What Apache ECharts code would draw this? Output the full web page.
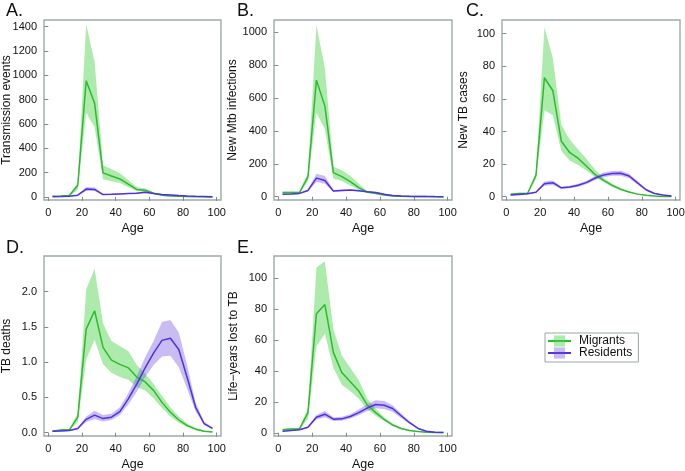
<!DOCTYPE html>
<html><head><meta charset="utf-8">
<script src="https://cdn.jsdelivr.net/npm/echarts@6/dist/echarts.min.js"></script>
<style>html,body{margin:0;padding:0;background:#fff}#c{width:685px;height:471px}</style>
</head><body><div id="c"></div>
<script>
// ---------- data ----------
const ages = [2.5,7.5,12.5,17.5,22.5,27.5,32.5,37.5,42.5,47.5,52.5,57.5,62.5,67.5,72.5,77.5,82.5,87.5,92.5,97.5];
const xTicks = [0,20,40,60,80,100];
const seriesNames = ['Migrants','Residents'];
const panelLetters = ['A.','B.','C.','D.','E.'];
const yTitles = ['Transmission events','New Mtb infections','New TB cases','TB deaths','Life\u2212years lost to TB'];
const yTicksA = [0,200,400,600,800,1000,1200,1400];
const yTicksB = [0,200,400,600,800,1000];
const yTicksC = [0,20,40,60,80,100];
const yTicksD = [0,0.5,1,1.5,2];
const yTicksE = [0,20,40,60,80,100];

// A: Transmission events
const A_mig   = [5,8,12,96,955,770,198,172,148,105,62,55,30,14,8,5,3,2,1,0.5];
const A_migLo = [2,4,6,60,690,575,145,130,115,80,48,42,24,11,6,4,2,1.5,0.7,0.3];
const A_migHi = [9,12,18,115,1420,1110,260,230,195,140,80,70,38,18,10,6,4,2.5,1.3,0.7];
const A_res   = [2,3,5,15,65,62,20,22,25,28,31,38,28,20,17,12,8,5,3,1];
const A_resLo = [1,2,4,12,50,48,16,18,21,24,27,33,24,17,14,10,6,4,2,0.7];
const A_resHi = [3,4,6,18,82,78,25,27,30,33,36,44,33,24,20,15,10,7,4,1.5];
// B: New Mtb infections
const B_mig   = [26,25,25,121,708,550,146,122,92,55,28,20,10,5,3,2,1,0.5,0.3,0.2];
const B_migLo = [20,20,20,95,510,410,110,95,68,40,22,16,8,4,2,1.5,0.7,0.3,0.2,0.1];
const B_migHi = [32,31,30,145,1042,780,182,160,128,78,35,25,13,6.5,4,2.5,1.3,0.7,0.4,0.3];
const B_res   = [15,17,20,38,113,98,35,38,40,36,30,25,15,8,5,3,2,1,0.5,0.2];
const B_resLo = [12,14,17,32,90,78,30,33,35,31,26,21,12,6.5,4,2.4,1.5,0.8,0.4,0.15];
const B_resHi = [18,20,23,44,140,125,40,43,45,41,35,29,18,10,6,3.6,2.5,1.3,0.7,0.3];
// C: New TB cases
const C_mig   = [1.5,2,2,13,73,65,34,27,23.5,18.5,13.5,10,7,4.6,2.9,1.6,0.9,0.5,0.2,0.1];
const C_migLo = [1.2,1.6,1.7,11,53,50,28,22,19.5,16,12,9,6,4,2.5,1.4,0.8,0.4,0.15,0.08];
const C_migHi = [1.8,2.4,2.5,15,104,85,44,35,29,23,16.5,11.5,8,5.2,3.2,1.9,1.1,0.6,0.3,0.15];
const C_res   = [1,1.4,1.8,2.8,8,8.6,5.5,6,7,8.8,11.5,13.4,14.3,14.4,12.7,8.5,4.3,2,1,0.5];
const C_resLo = [0.8,1.2,1.5,2.4,6.8,7.2,4.8,5.2,6.1,7.8,10.3,12,12.8,12.9,11.3,7.5,3.7,1.7,0.8,0.4];
const C_resHi = [1.2,1.6,2.1,3.2,9.4,10,6.2,6.8,7.9,9.8,12.7,14.8,15.8,16,14.1,9.5,4.9,2.3,1.2,0.6];
// D: TB deaths
const D_mig   = [0.02,0.04,0.04,0.22,1.47,1.73,1.21,1.03,0.97,0.92,0.79,0.72,0.60,0.43,0.29,0.18,0.10,0.05,0.02,0.01];
const D_migLo = [0.01,0.03,0.03,0.15,1.04,1.32,0.97,0.85,0.79,0.75,0.65,0.60,0.49,0.35,0.23,0.14,0.08,0.04,0.015,0.005];
const D_migHi = [0.03,0.05,0.05,0.28,2.03,2.33,1.55,1.30,1.23,1.16,0.96,0.84,0.69,0.52,0.36,0.23,0.13,0.07,0.03,0.015];
const D_res   = [0.02,0.025,0.03,0.06,0.19,0.25,0.20,0.22,0.30,0.48,0.69,0.92,1.13,1.31,1.34,1.18,0.78,0.36,0.13,0.06];
const D_resLo = [0.015,0.02,0.025,0.05,0.15,0.19,0.16,0.18,0.25,0.40,0.58,0.79,0.96,1.08,1.09,0.93,0.62,0.30,0.11,0.05];
const D_resHi = [0.025,0.03,0.035,0.07,0.23,0.31,0.25,0.27,0.36,0.56,0.80,1.07,1.30,1.57,1.60,1.42,0.95,0.42,0.16,0.07];
// E: Life-years lost to TB
const E_mig   = [2,2.5,2.5,13,77,83,52,39,33,27,18,13,8.6,5,2.8,1.4,0.8,0.4,0.2,0.1];
const E_migLo = [1.6,2,2,9,56,64,42,31,27,22,15,11,7.6,4.5,2.5,1.2,0.7,0.3,0.15,0.08];
const E_migHi = [2.4,3,3,16,107,111,67,50,42,34,22,15.5,10,6,3.3,1.7,1,0.5,0.25,0.12];
const E_res   = [1,1.5,2,3.5,10,12,8.8,9,10.5,13,16,18.3,17.8,15.7,11,6.5,2.8,1,0.4,0.2];
const E_resLo = [0.8,1.2,1.7,3,8.5,10,7.6,7.8,9.2,11.3,14,15.8,15.4,13.6,9.6,5.6,2.4,0.8,0.3,0.15];
const E_resHi = [1.2,1.8,2.3,4,11.5,14,10,10.3,12,15,18.5,21,20.5,17.8,12.5,7.4,3.3,1.2,0.5,0.25];

// ---------- layout / style ----------
const FONT = 'Liberation Sans, Arial, Helvetica, sans-serif';
const BOX = '#9eaaaa';
const TICK = '#7f8a8a';
const MIG_LINE = '#2cbb2c', MIG_BAND = 'rgba(70,210,70,0.45)';
const RES_LINE = '#5030e4', RES_BAND = 'rgba(110,80,220,0.38)';

const panels = [
  {grid:{left:44,top:20,width:177,height:180}, y:[-25,1455], ticks:yTicksA, gap:31, d:[A_mig,A_migLo,A_migHi,A_res,A_resLo,A_resHi], fmt:v=>String(v), title:[6,2]},
  {grid:{left:274,top:20,width:178,height:180}, y:[-20,1073], ticks:yTicksB, gap:35, d:[B_mig,B_migLo,B_migHi,B_res,B_resLo,B_resHi], fmt:v=>String(v), title:[237,2]},
  {grid:{left:502,top:20,width:178,height:180}, y:[-2,108.4], ticks:yTicksC, gap:32, d:[C_mig,C_migLo,C_migHi,C_res,C_resLo,C_resHi], fmt:v=>String(v), title:[466,2]},
  {grid:{left:44,top:256,width:177,height:180}, y:[-0.047,2.507], ticks:yTicksD, gap:31, d:[D_mig,D_migLo,D_migHi,D_res,D_resLo,D_resHi], fmt:v=>v.toFixed(1), title:[6,239]},
  {grid:{left:274,top:256,width:178,height:180}, y:[-2.1,114.4], ticks:yTicksE, gap:34, d:[E_mig,E_migLo,E_migHi,E_res,E_resLo,E_resHi], fmt:v=>String(v), title:[237,239]}
];

function bandRenderer(xs, lo, hi, color){
  return function(params, api){
    if (params.dataIndex !== 0) return null;
    const pts = [];
    for (let k=0;k<xs.length;k++) pts.push(api.coord([xs[k], hi[k]]));
    for (let k=xs.length-1;k>=0;k--) pts.push(api.coord([xs[k], lo[k]]));
    const cs = params.coordSys;
    return {type:'polygon', shape:{points:pts}, style:{fill:color},
      clipPath:{type:'rect', shape:{x:cs.x, y:cs.y, width:cs.width, height:cs.height}}};
  };
}

const grids=[], xAxes=[], yAxes=[], titles=[], series=[];
panels.forEach((p,i)=>{
  grids.push(Object.assign({show:true, borderColor:BOX, borderWidth:1.4, backgroundColor:'transparent', containLabel:false, outerBoundsMode:'none'}, p.grid));
  titles.push({text:panelLetters[i], left:p.title[0], top:p.title[1], padding:0, textStyle:{fontSize:18, fontWeight:'normal', color:'#111', fontFamily:FONT}});
  xAxes.push({type:'value', gridIndex:i, min:-2.55, max:102.55,
    name:'Age', nameLocation:'middle', nameGap:22, nameMoveOverlap:false, nameTextStyle:{fontSize:12.5, color:'#111', fontFamily:FONT},
    axisLine:{show:false}, splitLine:{show:false},
    axisTick:{show:true, length:4, customValues:xTicks, lineStyle:{color:TICK}},
    axisLabel:{customValues:xTicks, fontSize:11, margin:7, color:'#111', fontFamily:FONT, formatter:v=>String(v)}});
  yAxes.push({type:'value', gridIndex:i, min:p.y[0], max:p.y[1],
    name:yTitles[i], nameLocation:'middle', nameGap:p.gap, nameRotate:90, nameMoveOverlap:false, nameTextStyle:{fontSize:12, color:'#111', fontFamily:FONT},
    axisLine:{show:false}, splitLine:{show:false},
    axisTick:{show:true, length:4, customValues:p.ticks, lineStyle:{color:TICK}},
    axisLabel:{customValues:p.ticks, fontSize:11, margin:7, color:'#111', fontFamily:FONT, formatter:p.fmt}});
  const [m,mLo,mHi,r,rLo,rHi] = p.d;
  const groups = [[seriesNames[0],m,mLo,mHi,MIG_LINE,MIG_BAND],[seriesNames[1],r,rLo,rHi,RES_LINE,RES_BAND]];
  groups.forEach(([nm,mean,lo,hi,lc,bc])=>{
    series.push({type:'custom', name:nm+' interval', xAxisIndex:i, yAxisIndex:i, silent:true, z:1,
      encode:{x:0, y:[1,2]}, data:ages.map((a,k)=>[a,lo[k],hi[k]]),
      renderItem:bandRenderer(ages, lo, hi, bc)});
  });
  groups.forEach(([nm,mean,lo,hi,lc,bc])=>{
    series.push({type:'line', name:nm, xAxisIndex:i, yAxisIndex:i, symbol:'rect', showSymbol:false,
      itemStyle:{color:bc}, lineStyle:{color:lc, width:1.5}, data:ages.map((a,k)=>[a,mean[k]]), z:3});
  });
});

const chart = echarts.init(document.getElementById('c'), null, {renderer:'canvas'});
chart.setOption({
  animation:false,
  backgroundColor:'#fff',
  title:titles, grid:grids, xAxis:xAxes, yAxis:yAxes, series:series,
  legend:{data:seriesNames, orient:'vertical', left:545, top:333, padding:[2,6,3,2], itemGap:0,
    itemWidth:23, itemHeight:14, borderColor:'#9aa4a4', borderWidth:1,
    textStyle:{fontSize:12, color:'#111', fontFamily:FONT, padding:[0,0,0,3]}}
});
</script></body></html>
